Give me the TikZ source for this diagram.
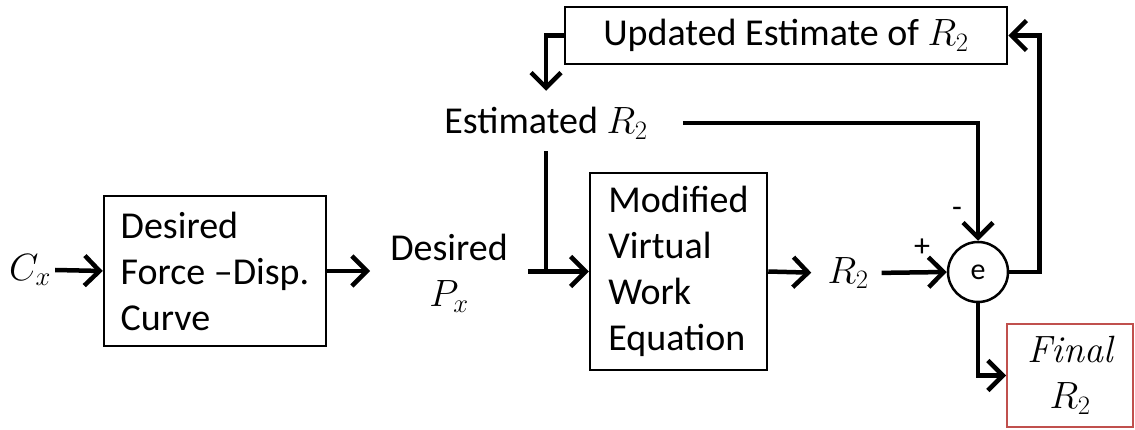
\RequirePackage{fix-cm}
\documentclass[tikz,border=0pt]{standalone}
\usepackage{fontspec}
\setmainfont{Carlito}
\newfontfamily\lmserif{Latin Modern Roman}
\usetikzlibrary{arrows.meta}
\definecolor{finred}{RGB}{192,80,77}
\begin{document}
\begin{tikzpicture}[x=1pt,y=-1pt,
  every node/.style={font=\fontsize{38}{46}\selectfont},
  lbl/.style={inner sep=4pt},
  blk/.style={draw, line width=2.5pt, inner sep=0pt},
  conn/.style={line width=4.5pt, line join=miter},
  arr/.style={conn, -{Straight Barb[length=15pt,width=30pt]}},
  sgn/.style={font=\fontsize{32}{32}\selectfont}]
\useasboundingbox (0,0) rectangle (1135,430);
\node[lbl] (cx) at (30,270) {$C_x$};
\node[blk, minimum width=222pt, minimum height=150pt, align=left] (b1) at (215,271) {Desired\\Force –Disp.\\Curve};
\node[lbl, align=center] (dp) at (449,273) {Desired\\$P_x$};
\node[blk, minimum width=177pt, minimum height=197pt, align=left] (b2) at (678.5,271.5) {Modified\\Virtual\\Work\\Equation};
\node[lbl] (r2) at (848,273) {$R_2$};
\node[circle, draw, line width=2.5pt, minimum size=60pt, inner sep=0pt, font=\fontsize{30}{30}\selectfont] (e) at (978,272) {e};
\node[lbl] (est) at (546,123) {Estimated $R_2$};
\node[blk, minimum width=442pt, minimum height=57pt] (upd) at (786,35.5) {Updated Estimate of $R_2$};
\node[blk, draw=finred, line width=2pt, minimum width=126pt, minimum height=103pt, align=center] (fin) at (1070,375.5) {{\lmserif\itshape Final}\\$R_2$};
\node[sgn] (plus) at (922,248) {+};
\node[sgn] (minus) at (957,212) {-};
\draw[arr] (cx.east) -- (b1.west);
\draw[arr, shorten >=16pt] (b1.east) -- (dp.west |- b1.east);
\draw[arr, shorten <=16pt] (dp.east |- b2.west) -- (b2.west);
\draw[conn, shorten <=8pt] (est.south) -- (est.south |- b2.west);
\draw[arr, shorten >=12pt] (b2.east) -- (r2.west);
\draw[arr, shorten <=9pt] (r2.east) -- (e.west);
\draw[arr, shorten <=31pt] (est.east) -| (e.north);
\draw[arr] (e.east) -- ++(30,0) |- (upd.east);
\draw[arr] (upd.west) -| ([yshift=12pt]est.north);
\draw[arr] (e.south) |- (fin.west);
\end{tikzpicture}
\end{document}
